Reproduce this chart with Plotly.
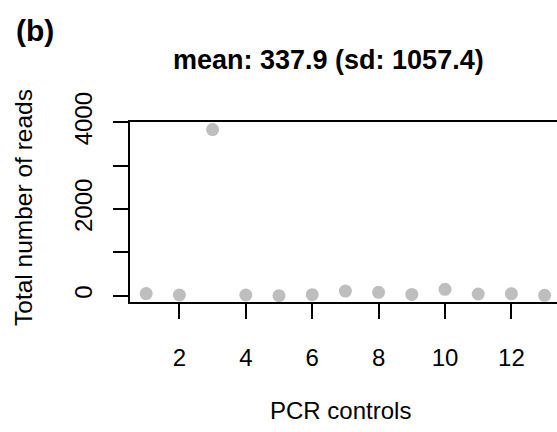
import plotly.graph_objects as go

controls = list(range(1, 14))
reads = [50, 16, 3830, 16, 0, 23, 108, 78, 30, 147, 39, 47, 8]
x_ticks = [2, 4, 6, 8, 10, 12]
y_ticks = [0, 1000, 2000, 3000, 4000]
y_ticklabels = ["0", "", "2000", "", "4000"]
title_text = "mean: 337.9 (sd: 1057.4)"
panel_label = "(b)"
x_title = "PCR controls"
y_title = "Total number of reads"

W, H = 557, 432
L, R, T, B = 130, 0, 122, 130
pw, ph = W - L - R, H - T - B

def px(x):
    return (x - L) / pw

def py(y):
    return (H - B - y) / ph

FONT = "Liberation Sans, Arial, Helvetica, sans-serif"

fig = go.Figure()
fig.add_trace(go.Scatter(
    x=controls, y=reads, mode="markers",
    marker=dict(color="#BEBEBE", size=13, line=dict(width=0)),
    cliponaxis=False, showlegend=False,
))

axis_common = dict(
    showgrid=False, zeroline=False, showline=True, linecolor="black", linewidth=1.6,
    ticks="outside", ticklen=15, tickwidth=1.6, tickcolor="black",
    tickfont=dict(family=FONT, size=24, color="black"),
)
fig.update_xaxes(range=[0.512, 13.373], tickvals=x_ticks, mirror=True,
                 ticklabelstandoff=18, **axis_common)
fig.update_yaxes(range=[-145, 4005], tickvals=y_ticks, ticktext=y_ticklabels,
                 tickangle=-90, ticklabelstandoff=12, mirror=False, **axis_common)

anns = [
    dict(text="<b>%s</b>" % title_text, x=px(328), y=py(60), font=dict(size=27)),
    dict(text="<b>%s</b>" % panel_label, x=px(35), y=py(30), font=dict(size=30)),
    dict(text=x_title, x=px(340), y=py(410), font=dict(size=24)),
    dict(text=y_title, x=px(23), y=py(208), font=dict(size=24.5), textangle=-90),
]
for a in anns:
    a["font"].update(family=FONT, color="black")
    fig.add_annotation(xref="paper", yref="paper", showarrow=False,
                       xanchor="center", yanchor="middle", **a)

fig.update_layout(
    width=W, height=H, margin=dict(l=L, r=R, t=T, b=B, pad=0),
    paper_bgcolor="white", plot_bgcolor="white",
)
fig.write_html("out.html")
